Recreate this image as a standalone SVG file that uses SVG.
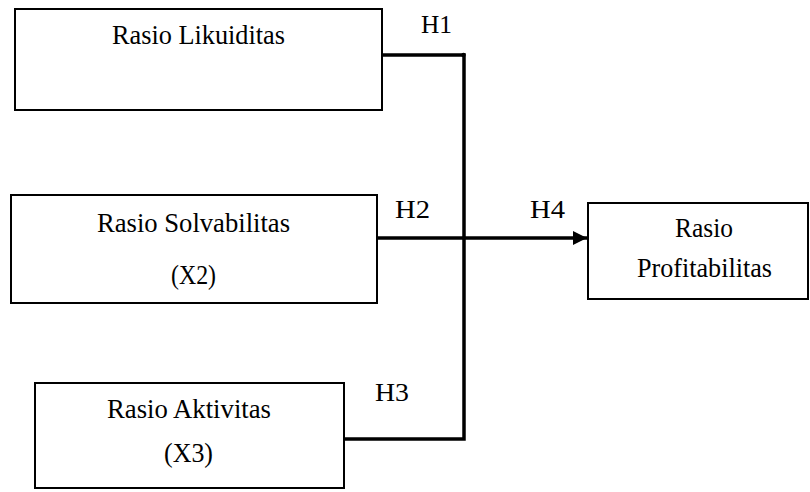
<svg xmlns="http://www.w3.org/2000/svg" width="810" height="492" viewBox="0 0 810 492">
<style>
.box{fill:#fff;stroke:#000;stroke-width:2}
.t{font-family:"Liberation Serif","Times New Roman",serif;font-size:27px;fill:#000;text-anchor:middle}
.h{font-family:"Liberation Serif","Times New Roman",serif;font-size:26px;fill:#000}
.c{fill:none;stroke:#000;stroke-width:3.5;stroke-linejoin:miter}
</style>
<defs>
<marker id="arr" markerUnits="userSpaceOnUse" markerWidth="14" markerHeight="14" refX="14" refY="7" orient="auto">
<path d="M0,0 L14,7 L0,14 Z" fill="#000"/>
</marker>
</defs>
<rect width="810" height="492" fill="#fff"/>
<g id="n1">
<rect class="box" x="15" y="9" width="367" height="101"/>
<text class="t" x="198.5" y="44" textLength="173" lengthAdjust="spacingAndGlyphs">Rasio Likuiditas</text>
</g>
<g id="n2">
<rect class="box" x="11" y="195" width="366" height="108"/>
<text class="t" x="193.5" y="232" textLength="193" lengthAdjust="spacingAndGlyphs">Rasio Solvabilitas</text>
<text class="t" x="193.5" y="284" textLength="45" lengthAdjust="spacingAndGlyphs">(X2)</text>
</g>
<g id="n3">
<rect class="box" x="35" y="383" width="309" height="105"/>
<text class="t" x="189" y="418" textLength="164" lengthAdjust="spacingAndGlyphs">Rasio Aktivitas</text>
<text class="t" x="188.5" y="462" textLength="49" lengthAdjust="spacingAndGlyphs">(X3)</text>
</g>
<g id="n4">
<rect class="box" x="588" y="203" width="220" height="96"/>
<text class="t" x="704" y="237" textLength="58" lengthAdjust="spacingAndGlyphs">Rasio</text>
<text class="t" x="704.5" y="277" textLength="135" lengthAdjust="spacingAndGlyphs">Profitabilitas</text>
</g>
<g id="connectors">
<path class="c" d="M382,55 H464 V439 H344"/>
<circle cx="463.5" cy="55" r="2.2" fill="#000"/>
<path class="c" d="M377,238 H587" marker-end="url(#arr)"/>
</g>
<g id="labels">
<text class="h" x="421" y="33" font-size="23" textLength="31" lengthAdjust="spacingAndGlyphs">H1</text>
<text class="h" x="395" y="218" textLength="35" lengthAdjust="spacingAndGlyphs">H2</text>
<text class="h" x="530" y="218" textLength="35" lengthAdjust="spacingAndGlyphs">H4</text>
<text class="h" x="375" y="401" textLength="34" lengthAdjust="spacingAndGlyphs">H3</text>
</g>
</svg>
